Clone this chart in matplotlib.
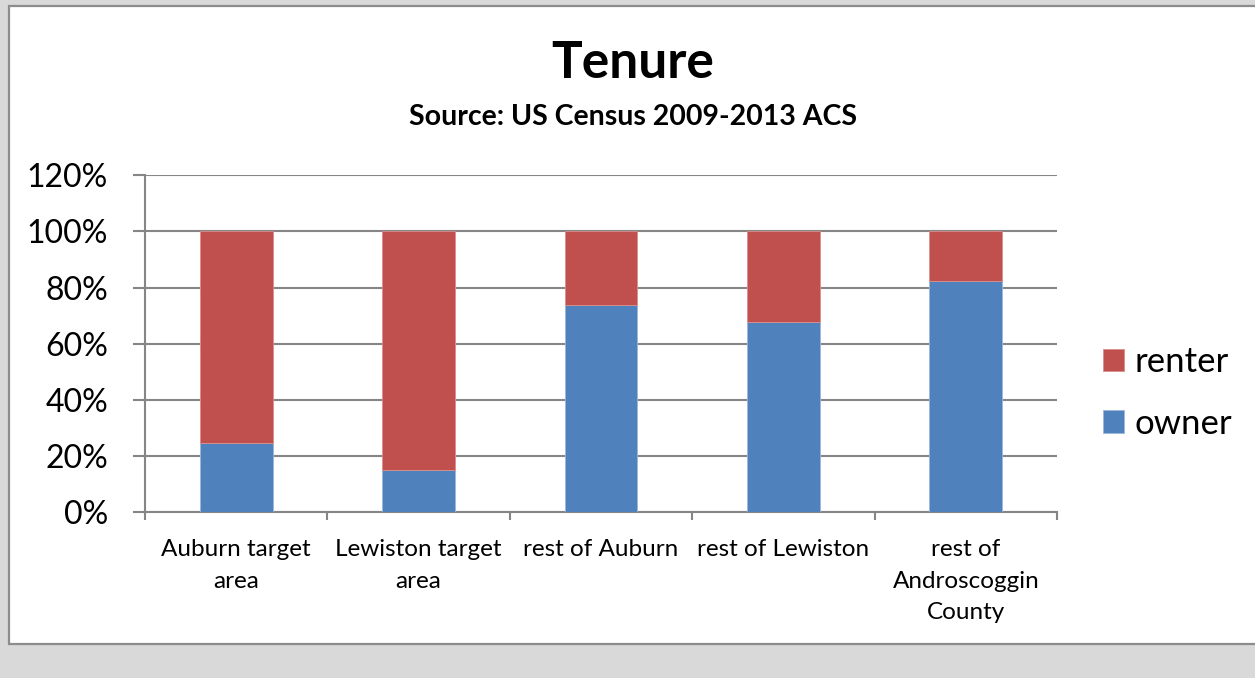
import matplotlib.pyplot as plt
from matplotlib.patches import Rectangle
import numpy as np

plt.rcParams['font.family'] = ['Lato', 'DejaVu Sans']

# data (percent of households)
areas = ['Auburn target\narea', 'Lewiston target\narea', 'rest of Auburn',
         'rest of Lewiston', 'rest of\nAndroscoggin\nCounty']
owner = [24.8, 15.1, 73.8, 67.7, 82.4]
renter = [75.2, 84.9, 26.2, 32.3, 17.6]

blue = '#4F81BD'
red = '#C0504D'
grid_col = '#868686'

fig = plt.figure(figsize=(12.55, 6.78), dpi=100)
fig.patch.set_facecolor('#d9d9d9')

# white chart panel with grey frame
fig.patches.append(Rectangle((9 / 1255, 34 / 678), 1.0, 638 / 678,
                             transform=fig.transFigure, facecolor='white',
                             edgecolor='#8c8c8c', linewidth=1.6, zorder=-5))

ax = fig.add_axes([145 / 1255, 1 - 512.3 / 678, 912 / 1255, 337 / 678])
ax.set_zorder(2)
ax.set_facecolor('none')

x = np.arange(len(areas))
ax.bar(x, owner, width=0.4, color=blue, edgecolor='#9db7dc', linewidth=0.6,
       label='owner', zorder=3)
ax.bar(x, renter, width=0.4, bottom=owner, color=red, edgecolor='#d98f8d',
       linewidth=0.6, label='renter', zorder=3)

ax.set_xlim(-0.5, len(areas) - 0.5)
ax.set_ylim(0, 120)
ax.set_yticks(np.arange(0, 121, 20))
ax.set_yticklabels([f'{v}%' for v in range(0, 121, 20)], fontsize=23)
ax.yaxis.grid(True, color=grid_col, linewidth=1.5, zorder=1)
ax.tick_params(axis='y', length=8.6, width=1.5, color=grid_col, pad=18)

# tick marks between categories, labels at the centres
ax.set_xticks(np.arange(-0.5, len(areas), 1.0))
ax.set_xticklabels([])
ax.set_xticks(x, minor=True)
ax.set_xticklabels(areas, minor=True, fontsize=17.5, linespacing=1.62,
                   va='top')
ax.tick_params(axis='x', which='major', length=6, width=1.5, color=grid_col)
ax.tick_params(axis='x', which='minor', length=0, pad=19.5)

for s in ['top', 'right']:
    ax.spines[s].set_visible(False)
for s in ['left', 'bottom']:
    ax.spines[s].set_color(grid_col)
    ax.spines[s].set_linewidth(1.5)

fig.text(633 / 1255, 1 - 64 / 678, 'Tenure', ha='center', va='center',
         fontsize=37, fontweight='bold')
fig.text(633 / 1255, 1 - 117 / 678, 'Source: US Census 2009-2013 ACS',
         ha='center', va='center', fontsize=20.5, fontweight='bold')

handles, labels = ax.get_legend_handles_labels()
fig.legend(handles[::-1], labels[::-1], loc='center left',
           bbox_to_anchor=(1089 / 1255, 1 - 393 / 678), frameon=False,
           fontsize=25, handlelength=0.6, handleheight=0.6,
           handletextpad=0.3, labelspacing=0.85, borderaxespad=0)

fig.savefig('out.png', dpi=100, facecolor=fig.get_facecolor())
